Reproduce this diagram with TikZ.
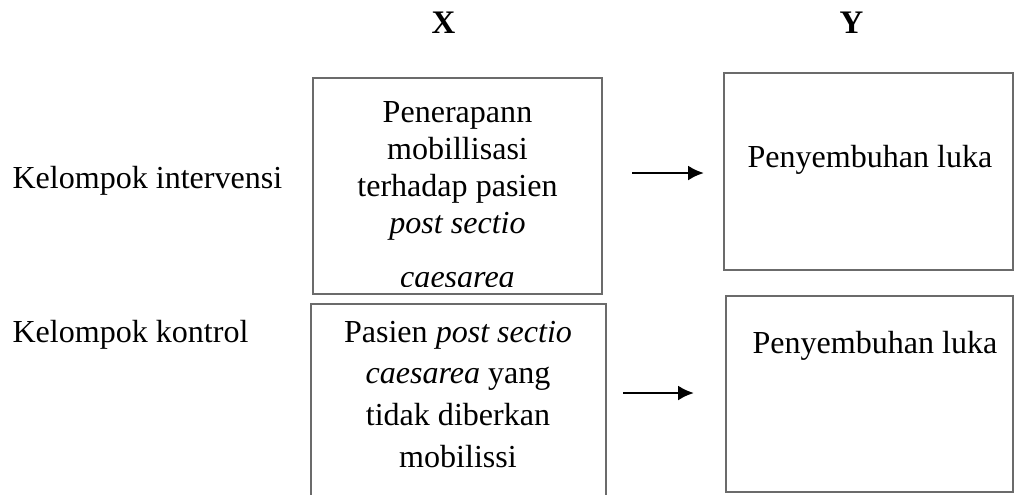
\documentclass[tikz,border=0pt]{standalone}
\usepackage{fontspec}
\setmainfont{Liberation Serif}
\usetikzlibrary{arrows.meta,positioning}

\begin{document}
\begin{tikzpicture}[x=0.365pt,y=-0.365pt,font=\fontsize{11.7}{13.5}\selectfont]
        \tikzstyle{box}=[draw=black!58,line width=0.5pt,inner sep=0pt]
        \tikzstyle{boxtext}=[align=center,inner sep=0pt,anchor=base]
        \tikzstyle{group}=[anchor=base west,inner sep=0pt]
        \tikzstyle{var}=[font=\fontsize{12}{14}\selectfont\bfseries,anchor=base,inner sep=0pt]
        \tikzstyle{flow}=[-{Latex[length=5.8pt,width=5.5pt]},line width=1.05pt]

        \useasboundingbox (0,0) rectangle (1014,494);
        \clip (0,0) rectangle (1014,494);

        % column heads
        \node[var] (x) at (443.5,33) {X};
        \node[var] (y) at (851.5,33) {Y};

        % groups
        \node[group] (gi) at (12,188) {Kelompok intervensi};
        \node[group] (gk) at (12,342) {Kelompok kontrol};

        % boxes
        \node[box, minimum width=105.5pt, minimum height=78.8pt] (ix) at (457.5,186) {};
        \node[box, minimum width=107.7pt, minimum height=84pt]   (kx) at (458.5,419) {};
        \node[box, minimum width=105.5pt, minimum height=71.9pt] (iy) at (868.5,171.5) {};
        \node[box, minimum width=104.8pt, minimum height=71.5pt] (ky) at (869.5,394) {};

        % texts (base = last line)
        \begin{scope}
            \clip (313,78) rectangle (602,286);
            \node[boxtext] (ixt) at (457.5,287)
                {Penerapann\\ mobillisasi\\ terhadap pasien\\ \textit{post sectio}\\[6.2pt] \textit{caesarea}};
        \end{scope}
        \node[boxtext, font=\fontsize{11.7}{15.2}\selectfont] (kxt) at (458,467)
            {Pasien \textit{post sectio}\\ \textit{caesarea} yang\\ tidak diberkan\\ mobilissi};
        \node[boxtext] (iyt) at (870,167) {Penyembuhan luka};
        \node[boxtext] (kyt) at (875,353) {Penyembuhan luka};

        % arrows
        \coordinate (ia) at (632,173);
        \coordinate (ib) at (704,173);
        \coordinate (ka) at (623,393);
        \coordinate (kb) at (694,393);
        \draw[flow] (ia) -- (ib);
        \draw[flow] (ka) -- (kb);
    \end{tikzpicture}
\end{document}
